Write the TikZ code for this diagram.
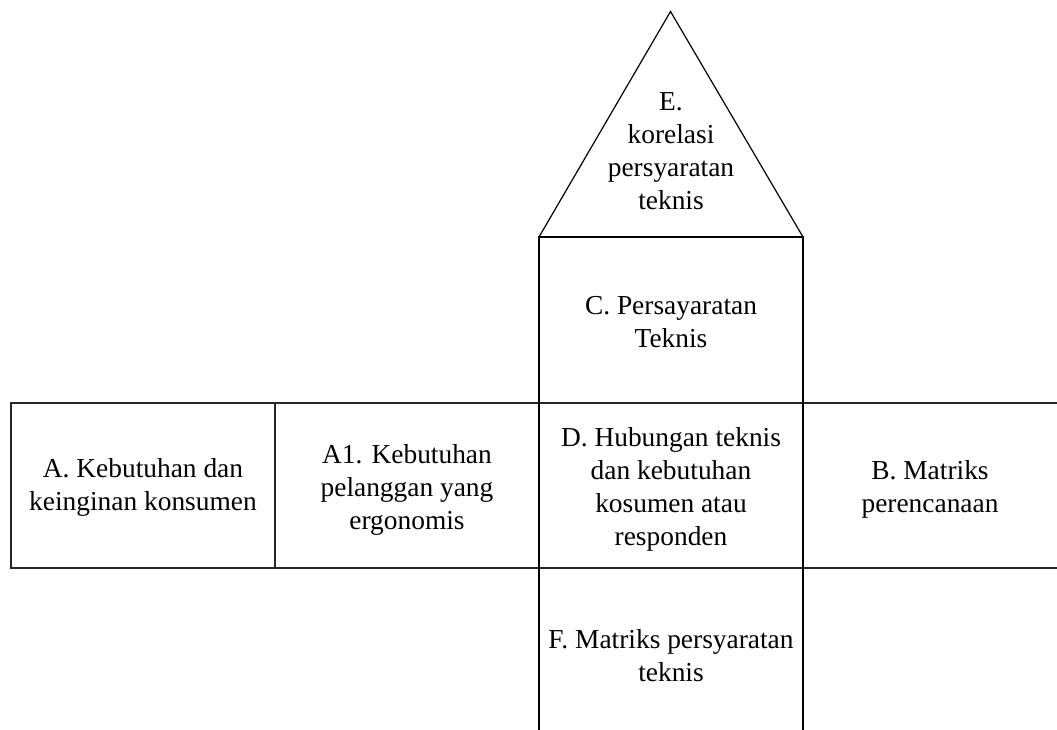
\documentclass[tikz,border=0pt]{standalone}
\usepackage{fontspec}
\setmainfont{Liberation Serif}
\begin{document}
\begin{tikzpicture}[x=1pt,y=-1pt,
  lbl/.style={align=center,inner sep=0pt,font=\fontsize{27.4}{33}\selectfont},
  heavy/.style={line width=2.4pt,black},
  band/.style={line width=1.8pt,black!85},
  roof/.style={line width=1.2pt,black}]
\useasboundingbox (0,0) rectangle (1057,730);
% coordinates
\coordinate (apex) at (670.5,11.5);
\coordinate (bl) at (539,237);
\coordinate (br) at (803,237);
\coordinate (bbl) at (539,730);
\coordinate (bbr) at (803,730);
\coordinate (tl) at (11,403);
\coordinate (tr) at (1057,403);
\coordinate (ll) at (11,568);
\coordinate (lr) at (1057,568);
\coordinate (d1t) at (275,403);
\coordinate (d1b) at (275,568);
% roof
\draw[roof] (bl) -- (apex) -- (br);
% band
\draw[band] (tr) -- (tl) -- (ll) -- (lr);
\draw[band] (d1t) -- (d1b);
% columns
\draw[heavy] (bbl) -- (bl) -- (br) -- (bbr);
% labels
\node[lbl] (E) at (671,151) {E.\\korelasi\\persyaratan\\teknis};
\node[lbl] (C) at (671,322) {C. Persayaratan\\Teknis};
\node[lbl] (A) at (143,487) {A. Kebutuhan dan\\keinginan konsumen};
\node[lbl] (A1) at (407,490) {A1. Kebutuhan\\pelanggan yang\\ergonomis};
\node[lbl] (D) at (671,489) {D. Hubungan teknis\\dan kebutuhan\\kosumen atau\\responden};
\node[lbl] (B) at (930,489) {B. Matriks\\perencanaan};
\node[lbl] (F) at (671,656) {F. Matriks persyaratan\\teknis};
\end{tikzpicture}
\end{document}
